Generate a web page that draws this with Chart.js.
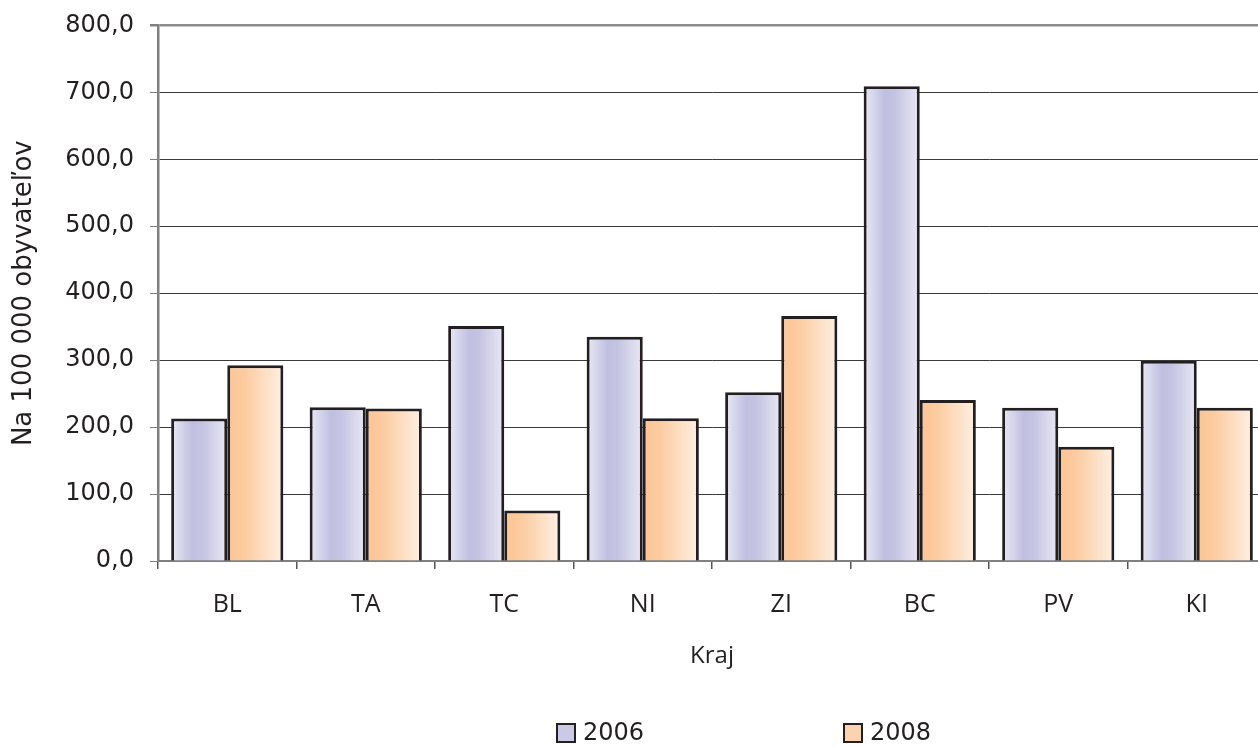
<!DOCTYPE html>
<html>
<head>
<meta charset="utf-8">
<script src="https://cdn.jsdelivr.net/npm/chart.js@4/dist/chart.umd.min.js"></script>
<style>
  html, body { margin: 0; padding: 0; background: #fff; overflow: hidden; }
  #wrap { width: 1266px; height: 752px; margin-top: -5px; }
</style>
</head>
<body>
<div id="wrap"><canvas id="graf"></canvas></div>
<script>
// --- DATA ---
const kraje = ['BL', 'TA', 'TC', 'NI', 'ZI', 'BC', 'PV', 'KI'];
const roky = ['2006', '2008'];
const hodnoty2006 = [212.8, 229.8, 351.0, 335.0, 252.0, 709.0, 229.0, 299.0];
const hodnoty2008 = [292.5, 227.8, 75.6, 213.4, 366.0, 240.3, 170.6, 229.0];
const osY = { min: 0, max: 800, krok: 100 };

const TEXT = '#231f20';
const FONT = '"Open Sans", "DejaVu Sans", sans-serif';
const FONT_NUM = '"DejaVu Sans", sans-serif';
const CAT_PCT = 0.81;

// farby stlpcov (horizontalny prechod ako v originali)
const prechody = [
  [[0, '#e9e9f5'], [0.38, '#c0bfe0'], [0.55, '#c4c3e2'], [1, '#e9e9f5']],
  [[0, '#fbc596'], [0.3, '#fccb9f'], [1, '#fef0e4']]
];
const plne = ['#cbcae6', '#fcd3b1'];

function vypln(c) {
  const chart = c.chart, x = chart.scales.x;
  if (c.dataIndex === undefined || !x || !chart.chartArea) return plne[c.datasetIndex];
  const sirka = x.width / kraje.length * CAT_PCT;
  const lavy = x.getPixelForValue(c.dataIndex) - sirka / 2 + c.datasetIndex * sirka / 2;
  const g = chart.ctx.createLinearGradient(lavy, 0, lavy + sirka / 2, 0);
  prechody[c.datasetIndex].forEach(s => g.addColorStop(s[0], s[1]));
  return g;
}

// vlastna legenda (siroko od seba ako v povodnom grafe)
const legendaPlugin = {
  id: 'legenda',
  afterDraw(chart) {
    const ctx = chart.ctx;
    const poz = [557, 844];
    ctx.save();
    ctx.font = '24px ' + FONT_NUM;
    ctx.textBaseline = 'middle';
    chart.data.datasets.forEach((ds, i) => {
      const x = poz[i], y = 738;
      ctx.fillStyle = plne[i];
      ctx.fillRect(x, y - 9, 18, 18);
      ctx.lineWidth = 2;
      ctx.strokeStyle = TEXT;
      ctx.strokeRect(x, y - 9, 18, 18);
      ctx.fillStyle = TEXT;
      ctx.fillText(ds.label, x + 26, y + 1);
    });
    ctx.restore();
  }
};

const stlpec = {
  backgroundColor: vypln,
  borderColor: TEXT,
  borderWidth: 3,
  categoryPercentage: CAT_PCT,
  barPercentage: 1.0
};

new Chart(document.getElementById('graf'), {
  type: 'bar',
  data: {
    labels: kraje,
    datasets: [
      Object.assign({ label: roky[0], data: hodnoty2006 }, stlpec),
      Object.assign({ label: roky[1], data: hodnoty2008 }, stlpec)
    ]
  },
  options: {
    responsive: true,
    maintainAspectRatio: false,
    animation: false,
    layout: { padding: { top: 19, right: 0, bottom: 76, left: 0 } },
    plugins: {
      legend: { display: false },
      tooltip: { enabled: false }
    },
    scales: {
      x: {
        afterFit(s) { s.height = 110; },
        grid: { offset: true, drawOnChartArea: false, drawTicks: true, tickLength: 8, tickColor: '#555', lineWidth: 1.5 },
        border: { color: '#808080', width: 2 },
        ticks: { color: TEXT, font: { family: FONT, size: 25 }, padding: 21 },
        title: { display: true, text: 'Kraj', color: TEXT, font: { family: FONT, size: 24 }, padding: 0 }
      },
      y: {
        min: osY.min, max: osY.max,
        afterFit(s) { s.width = 158; },
        grid: {
          color: c => c.tick && c.tick.value === osY.max ? '#8c8c8c' : '#3a3a3a',
          lineWidth: c => c.tick && c.tick.value === osY.max ? 2.5 : 1,
          tickLength: 8,
          tickColor: '#808080'
        },
        border: { color: '#808080', width: 2.5 },
        ticks: {
          stepSize: osY.krok,
          color: TEXT,
          font: { family: FONT_NUM, size: 24 },
          padding: 16,
          callback: v => v.toFixed(1).replace('.', ',')
        },
        title: { display: true, text: 'Na 100 000 obyvateľov', color: TEXT, font: { family: FONT_NUM, size: 26 }, padding: { top: 9, bottom: 0 } }
      }
    }
  },
  plugins: [legendaPlugin]
});
</script>
</body>
</html>
